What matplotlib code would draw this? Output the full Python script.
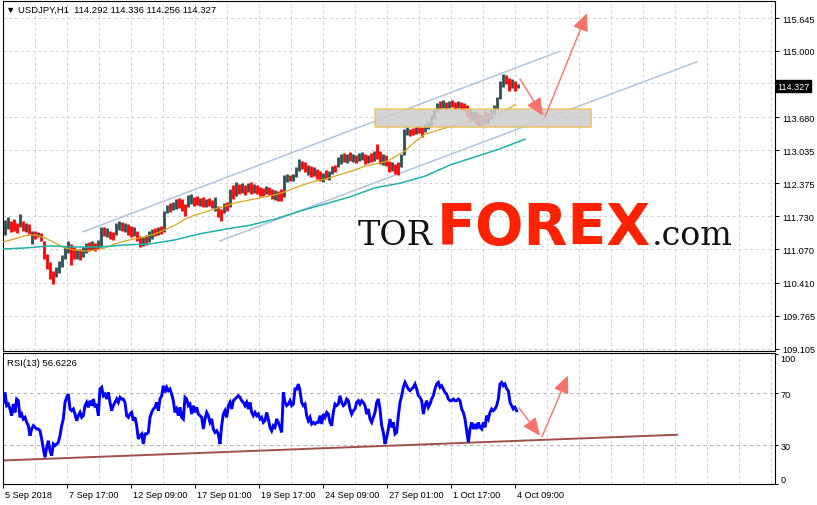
import numpy as np
import matplotlib
matplotlib.use("Agg")
import matplotlib.pyplot as plt
from matplotlib.patches import Rectangle
import matplotlib.transforms as mtransforms

plt.rcParams['font.family'] = ['Liberation Sans', 'DejaVu Sans']

# ---------------- data ----------------
symbol_title = "\u25bc USDJPY,H1  114.292 114.336 114.256 114.327"
rsi_title = "RSI(13) 56.6226"
last_price = 114.327

time_labels = ["5 Sep 2018", "7 Sep 17:00", "12 Sep 09:00", "17 Sep 01:00", "19 Sep 17:00",
               "24 Sep 09:00", "27 Sep 01:00", "1 Oct 17:00", "4 Oct 09:00"]
time_tick_bars = [0, 64, 128, 192, 256, 320, 384, 448, 512]

price_levels = [115.645, 115.000, 114.355, 113.680, 113.035, 112.375, 111.730, 111.070, 110.410, 109.765, 109.105]
price_labels = ["115.645", "115.000", "", "113.680", "113.035", "112.375", "111.730", "111.070", "110.410", "109.765", "109.105"]

bar_high = [111.65, 111.71, 111.63, 111.67, 111.59, 111.77, 111.63, 111.59, 111.57, 111.44,
            111.44, 111.42, 111.40, 111.24, 110.98, 110.82, 110.65, 110.72, 110.84, 110.96,
            111.12, 111.24, 111.18, 111.12, 111.08, 111.08, 111.12, 111.20, 111.22, 111.24,
            111.20, 111.26, 111.51, 111.51, 111.49, 111.44, 111.42, 111.59, 111.63, 111.61,
            111.59, 111.57, 111.53, 111.51, 111.44, 111.34, 111.32, 111.36, 111.44, 111.47,
            111.49, 111.51, 111.53, 111.83, 111.95, 111.99, 112.01, 112.07, 112.09, 112.07,
            111.97, 112.15, 112.17, 112.11, 112.13, 112.09, 112.11, 112.07, 112.09, 112.05,
            112.11, 111.93, 111.87, 111.99, 112.01, 112.27, 112.34, 112.40, 112.36, 112.38,
            112.34, 112.38, 112.40, 112.36, 112.34, 112.30, 112.29, 112.32, 112.30, 112.27,
            112.25, 112.23, 112.27, 112.54, 112.56, 112.54, 112.56, 112.70, 112.86, 112.82,
            112.80, 112.74, 112.72, 112.70, 112.66, 112.62, 112.58, 112.64, 112.62, 112.72,
            112.74, 112.90, 112.96, 112.98, 112.96, 113.00, 112.96, 112.94, 112.98, 113.00,
            112.96, 112.94, 112.98, 113.02, 113.16, 113.02, 112.96, 112.94, 112.82, 112.80,
            112.76, 112.80, 112.96, 113.45, 113.49, 113.45, 113.47, 113.51, 113.53, 113.49,
            113.55, 113.61, 113.73, 113.85, 113.96, 114.00, 114.02, 113.98, 114.00, 114.02,
            113.98, 114.00, 113.98, 113.96, 113.92, 113.85, 113.81, 113.79, 113.75, 113.73,
            113.81, 113.77, 113.85, 113.92, 114.08, 114.40, 114.54, 114.52, 114.46, 114.44,
            114.40, 114.34]
bar_low = [111.36, 111.47, 111.42, 111.44, 111.40, 111.51, 111.44, 111.42, 111.38, 111.18,
           111.28, 111.32, 111.24, 110.88, 110.68, 110.49, 110.39, 110.53, 110.61, 110.72,
           110.88, 111.00, 110.76, 110.88, 110.88, 110.86, 110.92, 111.00, 111.04, 111.06,
           111.04, 111.08, 111.12, 111.34, 111.32, 111.28, 111.26, 111.36, 111.46, 111.44,
           111.42, 111.36, 111.32, 111.34, 111.24, 111.12, 111.14, 111.16, 111.22, 111.28,
           111.34, 111.36, 111.38, 111.42, 111.79, 111.81, 111.85, 111.87, 111.89, 111.83,
           111.73, 111.91, 111.97, 111.93, 111.95, 111.93, 111.91, 111.91, 111.93, 111.89,
           111.83, 111.71, 111.63, 111.79, 111.83, 111.91, 112.07, 112.13, 112.17, 112.19,
           112.15, 112.21, 112.17, 112.19, 112.17, 112.13, 112.13, 112.17, 112.15, 112.07,
           112.05, 112.03, 112.03, 112.11, 112.40, 112.42, 112.42, 112.50, 112.62, 112.66,
           112.60, 112.54, 112.50, 112.52, 112.46, 112.42, 112.40, 112.46, 112.44, 112.56,
           112.60, 112.70, 112.76, 112.80, 112.78, 112.82, 112.80, 112.78, 112.82, 112.84,
           112.76, 112.78, 112.80, 112.82, 112.86, 112.76, 112.74, 112.72, 112.60, 112.62,
           112.56, 112.54, 112.70, 112.94, 113.33, 113.31, 113.33, 113.35, 113.37, 113.29,
           113.39, 113.45, 113.51, 113.65, 113.79, 113.85, 113.87, 113.85, 113.87, 113.88,
           113.85, 113.87, 113.83, 113.81, 113.69, 113.59, 113.61, 113.55, 113.51, 113.53,
           113.55, 113.57, 113.65, 113.75, 113.85, 114.04, 114.28, 114.34, 114.20, 114.26,
           114.20, 114.26]
bar_dir = ("DDRRRDRDRD" "RDRRRRRDDD" "DDRRDRDDRD" "RDDRDRRDDR" "DRRDRRDRDD" "RDRDDRDDRR"
           "RDDRRDRDRR" "DRRDRDRDRD" "RDRDRRRDRR" "DRRDDRDDDR" "RDRDRRDRDD" "RDDRDRDRDD"
           "RDRDRRDRRD" "RRDDDRRDRR" "DDDDDRDRDR" "RDRRRRDRRD" "RDDDDDDRRD" "RD")

ma_fast_bar = [0, 12, 22, 32, 42, 52, 62, 72, 82, 92, 102, 112, 122, 132, 142, 152, 162, 172,
               182, 192, 202, 212, 222, 232, 242, 252, 262, 272, 282, 292, 302, 312, 322, 332,
               342, 352, 362, 372, 382, 392, 402, 412, 422, 432, 442, 452, 462, 472, 482, 492,
               502, 512]
ma_fast = [111.22, 111.28, 111.34, 111.36, 111.30, 111.20, 111.10, 111.06, 111.04, 111.06,
           111.10, 111.18, 111.24, 111.28, 111.32, 111.38, 111.46, 111.55, 111.67, 111.75,
           111.81, 111.87, 111.93, 111.99, 112.03, 112.07, 112.11, 112.15, 112.21, 112.29,
           112.36, 112.42, 112.46, 112.52, 112.58, 112.64, 112.72, 112.76, 112.80, 112.90,
           113.02, 113.20, 113.35, 113.41, 113.47, 113.53, 113.59, 113.63, 113.67, 113.73,
           113.81, 113.93]
ma_slow_bar = [0, 22, 47, 72, 97, 122, 147, 172, 197, 222, 247, 272, 297, 322, 347, 372, 397,
               422, 447, 472, 497, 522]
ma_slow = [111.08, 111.10, 111.14, 111.12, 111.12, 111.16, 111.18, 111.26, 111.38, 111.47,
           111.55, 111.67, 111.83, 111.97, 112.11, 112.29, 112.38, 112.52, 112.74, 112.90,
           113.06, 113.25]

rsi_values = [62.8, 70.5, 60.3, 61.5, 57.7, 52.6, 61.5, 55.1, 65.4, 64.1,
              51.3, 53.8, 50.0, 51.3, 47.4, 44.9, 37.2, 42.3, 44.9, 43.6,
              42.3, 42.3, 41.0, 34.6, 26.9, 20.5, 28.2, 33.3, 25.6, 21.8,
              30.8, 29.5, 30.8, 32.1, 37.2, 44.9, 50.0, 62.8, 66.7, 69.2,
              57.7, 56.4, 57.7, 53.8, 48.7, 52.6, 55.1, 51.3, 52.6, 60.3,
              62.8, 59.0, 64.1, 60.3, 65.4, 59.0, 61.5, 52.6, 73.1, 74.4,
              67.9, 69.2, 65.4, 70.5, 62.8, 56.4, 60.3, 62.8, 65.4, 62.8,
              66.7, 65.4, 65.4, 62.8, 52.6, 51.3, 53.8, 55.1, 48.7, 51.3,
              44.9, 34.6, 37.2, 38.5, 30.8, 38.5, 38.5, 39.7, 51.3, 55.1,
              57.7, 59.0, 62.8, 56.4, 65.4, 67.9, 75.6, 70.5, 74.4, 71.8,
              73.1, 69.2, 64.1, 55.1, 57.7, 52.6, 59.0, 51.3, 50.0, 66.7,
              65.4, 60.3, 61.5, 53.8, 60.3, 55.1, 59.0, 53.8, 52.6, 51.3,
              42.3, 50.0, 55.1, 52.6, 47.4, 50.0, 42.3, 39.7, 41.0, 38.5,
              30.8, 44.9, 53.8, 56.4, 51.3, 60.3, 62.8, 57.7, 64.1, 65.4,
              66.7, 67.9, 66.7, 64.1, 62.8, 60.3, 62.8, 57.7, 62.8, 55.1,
              52.6, 55.1, 52.6, 53.8, 50.0, 51.3, 47.4, 48.7, 55.1, 50.0,
              43.6, 41.0, 44.9, 43.6, 50.0, 47.4, 43.6, 39.7, 70.5, 62.8,
              60.3, 61.5, 64.1, 60.3, 61.5, 73.1, 73.1, 76.9, 71.8, 62.8,
              60.3, 61.5, 52.6, 48.7, 51.3, 46.2, 47.4, 46.2, 47.4, 47.4,
              52.6, 46.2, 53.8, 51.3, 55.1, 53.8, 47.4, 44.9, 55.1, 61.5,
              60.3, 61.5, 67.9, 62.8, 60.3, 61.5, 65.4, 64.1, 57.7, 53.8,
              56.4, 57.7, 62.8, 64.1, 61.5, 64.1, 62.8, 60.3, 53.8, 57.7,
              50.0, 47.4, 51.3, 55.1, 62.8, 65.4, 57.7, 44.9, 39.7, 30.8,
              35.9, 42.3, 50.0, 43.6, 47.4, 38.5, 39.7, 52.6, 62.8, 67.9,
              74.4, 78.2, 75.6, 73.1, 71.8, 73.1, 74.4, 76.9, 73.1, 67.9,
              66.7, 64.1, 53.8, 60.3, 64.1, 59.0, 61.5, 65.4, 67.9, 73.1,
              76.9, 78.2, 74.4, 75.6, 73.1, 70.5, 69.2, 65.4, 64.1, 64.1,
              65.4, 64.1, 64.1, 65.4, 64.1, 57.7, 55.1, 50.0, 41.0, 32.1,
              42.3, 47.4, 42.3, 46.2, 42.3, 47.4, 43.6, 42.3, 47.4, 43.6,
              52.6, 50.0, 55.1, 57.7, 56.4, 57.7, 60.3, 65.4, 76.9, 78.2,
              75.6, 76.9, 73.1, 71.8, 62.8, 60.3, 57.7, 59.0, 56.4]
rsi_levels = [70, 30]
rsi_tick_values = [100, 70, 30, 0]

channel_upper_bar = [80, 557]
channel_upper = [111.42, 114.99]
channel_lower_bar = [217, 694]
channel_lower = [111.24, 114.78]
zone_bar = [372, 588]
zone_price = [113.49, 113.85]
fc1_bar = [517, 540]
fc1_price = [114.44, 113.71]
fc2_bar = [542, 584]
fc2_price = [113.69, 115.74]
rsi_trend_bar = [0, 674]
rsi_trend = [18.1, 37.9]
rfc1_bar = [516, 537]
rfc1_val = [58.5, 37.2]
rfc2_bar = [539, 565]
rfc2_val = [36.4, 83.5]

# ---------------- layout ----------------
W, H = 817, 506
fig = plt.figure(figsize=(W / 100, H / 100), dpi=100)


def rect(x0, y0, x1, y1):
    return [x0 / W, 1 - y1 / H, (x1 - x0) / W, (y1 - y0) / H]


ax = fig.add_axes(rect(3, 2, 775, 352))
ax2 = fig.add_axes(rect(3, 354, 775, 485))

px_per_bar = 3
nb = len(bar_high)
bar_x = np.arange(nb) * px_per_bar + px_per_bar / 2

for a in (ax, ax2):
    a.set_xlim(0, 772)
    for s in a.spines.values():
        s.set_linewidth(0.8)
        s.set_color('black')
    for gx in range(32, 772, 32):
        a.axvline(gx, color='#d2d2d2', lw=0.7, dashes=(3, 3), zorder=0)

ax.set_ylim(109.064, 115.981)
for lv in price_levels:
    ax.axhline(lv, color='#d2d2d2', lw=0.7, dashes=(3, 3), zorder=0)

# candles
cols = ['#2f4f4f' if d == 'D' else '#ff0000' for d in bar_dir]
ax.vlines(bar_x, bar_low, bar_high, colors=cols, linewidth=2.0, zorder=3)

# moving averages
ax.plot(ma_fast_bar, ma_fast, color='#daa520', lw=0.9, zorder=4)
ax.plot(ma_slow_bar, ma_slow, color='#20b2aa', lw=1.1, zorder=4)

# channel
ax.plot(channel_upper_bar, channel_upper, color='#b0c4de', lw=1.1, zorder=2)
ax.plot(channel_lower_bar, channel_lower, color='#b0c4de', lw=1.1, zorder=2)

# zone
ax.add_patch(Rectangle((zone_bar[0] + 1, zone_price[0] - 0.02), zone_bar[1] - zone_bar[0],
                       zone_price[1] - zone_price[0], facecolor='#bdbdbd', alpha=0.35,
                       edgecolor='none', zorder=4))
ax.add_patch(Rectangle((zone_bar[0], zone_price[0]), zone_bar[1] - zone_bar[0],
                       zone_price[1] - zone_price[0], facecolor='#d0d0d0', alpha=0.8,
                       edgecolor='#eec04a', lw=1.1, zorder=5))

arrow_kw = dict(arrowstyle='-|>,head_length=0.9,head_width=0.4', color='#f7736a', lw=1.0,
                mutation_scale=12, shrinkA=0, shrinkB=0)
ax.annotate('', xy=(fc1_bar[1], fc1_price[1]), xytext=(fc1_bar[0], fc1_price[0]),
            arrowprops=arrow_kw, zorder=6, annotation_clip=False)
ax.annotate('', xy=(fc2_bar[1], fc2_price[1]), xytext=(fc2_bar[0], fc2_price[0]),
            arrowprops=arrow_kw, zorder=6, annotation_clip=False)

# price axis
ax.yaxis.tick_right()
ax.set_yticks(price_levels)
ax.set_yticklabels(price_labels)
ax.tick_params(axis='y', length=3, width=0.7, pad=2, labelsize=6.6)
ax.tick_params(axis='x', bottom=False, labelbottom=False)
ax.text(1.003, last_price - 0.03, "114.327", transform=mtransforms.blended_transform_factory(ax.transAxes, ax.transData),
        color='white', fontsize=6.6, va='center', ha='left',
        bbox=dict(boxstyle='square,pad=0.15', facecolor='black', edgecolor='black'), zorder=10, clip_on=False)

# ---------------- RSI ----------------
ax2.set_ylim(0, 100.8)
for lv in rsi_levels:
    ax2.axhline(lv, color='#b4b4b4', lw=0.8, dashes=(3, 3), zorder=0)
rsi_x = np.arange(len(rsi_values)) * 5 / 3 + 1 / 3
ax2.plot(rsi_x, rsi_values, color='#0000ff', lw=2.1, zorder=3, solid_joinstyle='miter')
ax2.plot(rsi_trend_bar, rsi_trend, color='#a0504c', lw=1.4, zorder=2)
ax2.annotate('', xy=(rfc1_bar[1], rfc1_val[1]), xytext=(rfc1_bar[0], rfc1_val[0]),
             arrowprops=arrow_kw, zorder=6, annotation_clip=False)
ax2.annotate('', xy=(rfc2_bar[1], rfc2_val[1]), xytext=(rfc2_bar[0], rfc2_val[0]),
             arrowprops=arrow_kw, zorder=6, annotation_clip=False)

ax2.yaxis.tick_right()
ax2.set_yticks(rsi_tick_values)
ax2.set_yticklabels([str(v) for v in rsi_tick_values])
ax2.tick_params(axis='y', length=2, width=0.7, pad=2, labelsize=6.6)
ylabels = ax2.get_yticklabels()
ylabels[0].set_va('top')
ylabels[-1].set_va('bottom')

ax2.set_xticks(time_tick_bars)
ax2.set_xticklabels(time_labels)
ax2.tick_params(axis='x', length=3, width=0.7, pad=1.5, labelsize=6.6)
off = mtransforms.ScaledTranslation(1.5 / 72, 0, fig.dpi_scale_trans)
for lbl in ax2.get_xticklabels():
    lbl.set_ha('left')
    lbl.set_transform(lbl.get_transform() + off)

# ---------------- texts ----------------
fig.text(6 / W, 1 - 10 / H, symbol_title, fontsize=6.8, va='center', ha='left',
         family=['Liberation Sans', 'DejaVu Sans'])
fig.text(7 / W, 1 - 364 / H, rsi_title, fontsize=6.8, va='center', ha='left')

# watermark
fig.text(432 / W, 1 - 245 / H, "TOR", fontsize=24, family='DejaVu Serif',
         color='#111111', va='baseline', ha='right', zorder=1)
fig.text(437 / W, 1 - 245 / H, "FOREX", fontsize=41, family='DejaVu Sans', fontweight='bold',
         color='#ff2200', va='baseline', ha='left', zorder=1)
fig.text(652 / W, 1 - 245 / H, ".com", fontsize=24, family='DejaVu Serif',
         color='#111111', va='baseline', ha='left', zorder=1)

fig.savefig("out.png", dpi=100)
